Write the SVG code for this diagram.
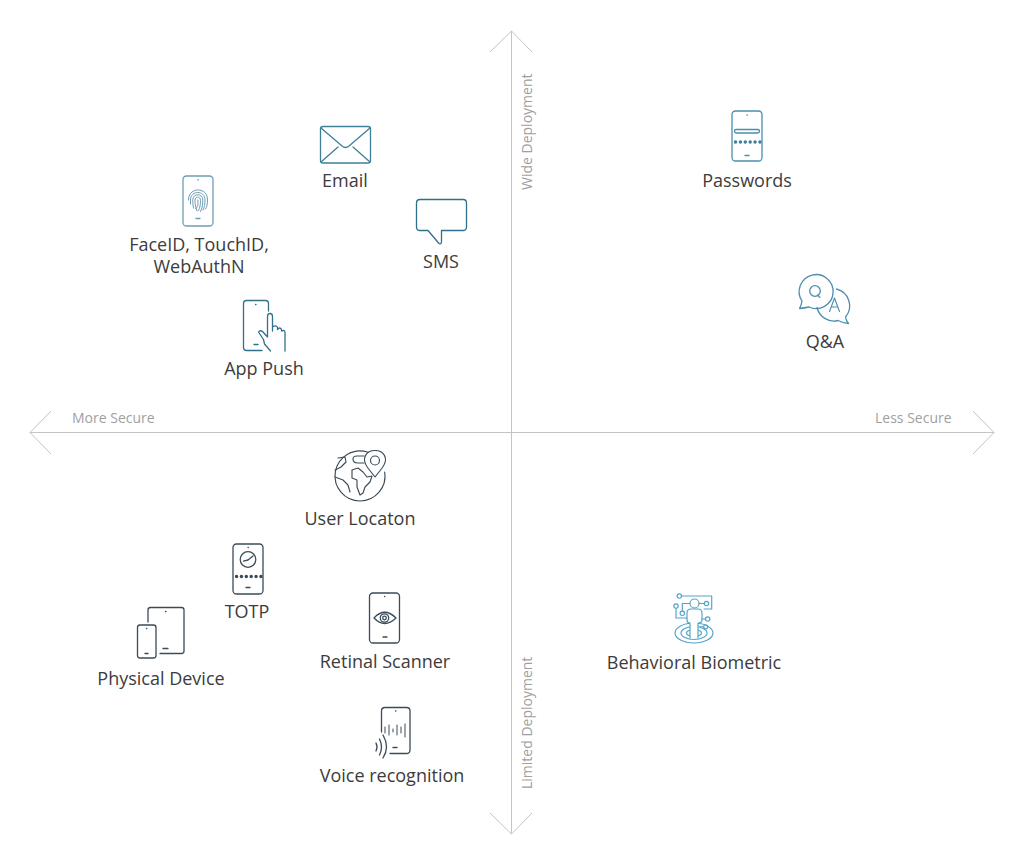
<svg xmlns="http://www.w3.org/2000/svg" width="1024" height="864" viewBox="0 0 1024 864">
<style>
.l{font-family:"Open Sans","Liberation Sans",sans-serif;font-size:18px;fill:#3c3c3c;text-anchor:middle}
.a{font-family:"Open Sans","Liberation Sans",sans-serif;font-size:14px;fill:#9f9f9f}
.ax{fill:none;stroke:#c4c4c4;stroke-width:1}
.i{fill:none;stroke-width:1.3;stroke-linejoin:round;stroke-linecap:round}
.t{stroke:#3f7f98}.f{stroke:#6f9db3}.n{stroke:#31708c}.b{stroke:#4a8fae}.d{stroke:#3a4c5a}.g{stroke:#52a3c8}
.dots{stroke-width:3.4;stroke-dasharray:.1 4.78;fill:none;stroke-linecap:round}
</style>
<rect width="1024" height="864" fill="#fff"/>
<g id="connectors">
<path class="ax" d="M511.500 31V834M490 52L511.500 31L532 52M490 813L511.500 834L532 813"/>
<path class="ax" d="M30 432.500H994M51 411L30 432.500L51 454M973 411L994 432.500L973 454"/>
</g>
<g id="axis-labels">
<text class="a" x="72" y="422.500">More Secure</text>
<text class="a" x="875" y="422.500">Less Secure</text>
<text class="a" transform="translate(532 190) rotate(-90)">Wide Deployment</text>
<text class="a" transform="translate(532 789) rotate(-90)">Limited Deployment</text>
</g>
<g id="email">
<g class="i t"><rect x="320.500" y="126.500" width="50" height="36.500" rx="2.500"/><path d="M321 128L342 146Q345.500 149 349 146L370 128M321 162L338 147M370 162L353 147"/></g>
<text class="l" x="345" y="186.700">Email</text>
</g>
<g id="faceid">
<g class="i f"><rect x="183" y="176" width="30" height="50" rx="3.500"/><path d="M196 218.500H200"/><path d="M198 179.500V180"/>
<path d="M188.500 200C188 186.500 208 186.500 207.500 200C207.500 204 207 207 205.500 209M190.500 204V200C190.500 190 205 190 205 200C205 204 204.500 207 203 210M193.500 208C192.800 205 192.800 202 192.800 200C192.800 193 202.800 193 202.800 200C202.800 204 202.300 208 200.500 211.500M197 211C195.300 206 195 203 195 200.500C195 196 200.500 196 200.500 200.500C200.500 204 200 208 198.500 210.500M197.800 200C198 204 198.500 207 195.500 208.500" stroke-width="1"/></g>
<text class="l" x="199" y="250.700">FaceID, TouchID,</text>
<text class="l" x="199" y="272.700">WebAuthN</text>
</g>
<g id="sms">
<path class="i n" d="M420 199.500H463Q466.500 199.500 466.500 203V227Q466.500 230.500 463 230.500H441.500V241Q441.500 245 439 243.500L428 230.500H420Q416.500 230.500 416.500 227V203Q416.500 199.500 420 199.500Z"/>
<text class="l" x="441" y="267.700">SMS</text>
</g>
<g id="app-push">
<g class="i n"><path d="M268.500 311V303.500Q268.500 300.500 265.500 300.500H246.500Q243.500 300.500 243.500 303.500V347.500Q243.500 350.500 246.500 350.500H262M255.500 304.500H256M254 344.500H258"/>
<path d="M267.500 337V316.500Q267.500 313.500 270 313.500Q272.500 313.500 272.500 316.500V331V327Q276 324.500 277.500 327.500V329.500Q280 326.500 281.500 329.500V331Q285 329.500 285 332.500V351M267.500 337L263 332Q260 329.500 258.500 332L263.500 339.500L264.500 344L270.500 351"/></g>
<text class="l" x="264" y="374.700">App Push</text>
</g>
<g id="passwords">
<g class="i b"><rect x="732" y="111" width="30" height="50" rx="3.500"/><path d="M745 155.500H749M747 115H747.300"/><rect x="734.500" y="129.500" width="25" height="3.500" rx="1.700"/></g>
<path class="dots" stroke="#3f7f98" d="M735.500 142H760"/>
<text class="l" x="747" y="186.700">Passwords</text>
</g>
<g id="qa">
<g class="i b"><path d="M802 301A17 17 0 1 1 809 307Q804 308 799.500 308.500Q801.500 305 802 301Z"/>
<path d="M836.500 289A17.300 17.300 0 0 1 845.500 317Q846 320.500 848.500 323.500Q843 323 838 320.500A17.300 17.300 0 0 1 817 307.500"/>
<circle cx="815" cy="291" r="5.300"/><path d="M817.500 295L820 297.500M829.500 311.500L834.500 298L839.500 311.500M831.300 307H837.700" stroke-width="1.100"/></g>
<text class="l" x="825" y="347.700">Q&amp;A</text>
</g>
<g id="user-location">
<g class="i d" style="stroke-width:1.150"><path d="M368 452.300A25 25 0 1 0 384.700 472"/>
<path d="M375 477L367.500 467.500C361 458.500 366 450.500 375 450.500C384 450.500 389 458.500 382.500 467.500Z"/><circle cx="375" cy="460.500" r="4.500"/>
<path d="M338 458L345 457L346 462L341 467L335 470M335 477L343 480L348 485L350 492M364 456H357Q353 456 353 459Q353 463 358 463H364"/>
<path d="M352 470L358 468L363 472L367 477L372 476L370 482L365 487L363 493L360 495L357 487L357 480L352 478Z"/></g>
<text class="l" x="360" y="524.700">User Locaton</text>
</g>
<g id="totp">
<g class="i d"><rect x="233" y="544" width="30" height="50" rx="3.500"/><path d="M246 587.500H250M248 547.500H248.300"/><circle cx="248" cy="559.500" r="7.800"/><path d="M243.500 561.200L248 560L253 556"/></g>
<path class="dots" stroke="#3a4c5a" d="M236.500 576.500H261"/>
<text class="l" x="247" y="617.700">TOTP</text>
</g>
<g id="physical-device">
<g class="i d"><path d="M148 622V610Q148 607.500 150.500 607.500H181.500Q184 607.500 184 610V651Q184 653.500 181.500 653.500H160M163 648.500H168M165.500 611.500H166"/><rect x="137.500" y="625" width="18.500" height="33" rx="2.500"/><path d="M145 653.500H148M146.500 628.500H146.800"/></g>
<text class="l" x="161" y="684.700">Physical Device</text>
</g>
<g id="retinal-scanner">
<g class="i d"><rect x="369.500" y="593" width="30" height="50" rx="3.500"/><path d="M383 637H387M384.500 596.500H384.800M374 618Q384.500 606.500 396 618Q384.500 629 374 618Z"/><circle cx="384.500" cy="618" r="4.200"/><circle cx="384.500" cy="618" r="1.800"/></g>
<text class="l" x="385" y="667.700">Retinal Scanner</text>
</g>
<g id="voice-recognition">
<g class="i d"><path d="M381.500 732V711Q381.500 707.500 385 707.500H406.500Q410 707.500 410 711V750Q410 753.500 406.500 753.500H390M393 747.500H397M395.500 711H395.800"/>
<path d="M385 727V733M389 725V735M393 729V732M397 725V735M401 727V733M405 724V737" stroke-width="1"/>
<path d="M376 743Q378 747 376 751M379.500 739Q383.500 747 379.500 755M383 735Q390 747 383 758"/></g>
<text class="l" x="392" y="781.700">Voice recognition</text>
</g>
<g id="behavioral-biometric">
<g class="i g" style="stroke-width:1.150"><ellipse cx="694" cy="633" rx="19" ry="10"/><ellipse cx="694" cy="633" rx="13" ry="6.500"/><ellipse cx="694" cy="633" rx="7.500" ry="3.500"/>
<path fill="#fff" d="M690 638V623Q687 623 687 620V613Q687 609 691 609H698Q702 609 702 613V620Q702 623 698 623V638"/><circle cx="694.500" cy="603.500" r="4.500"/>
<circle cx="679.300" cy="596" r="2.200"/><path d="M681.500 596H711.700V609H704"/><circle cx="706.500" cy="603.500" r="2.200"/><path d="M704.300 603.500H699"/>
<circle cx="676" cy="606" r="2.200"/><path d="M676 608.200V618H687"/>
<circle cx="682.300" cy="613.300" r="2.200"/><path d="M682.300 611V603.500H690"/>
<circle cx="707.700" cy="619" r="2.200"/><path d="M705.500 619H702"/><circle cx="705.700" cy="626.700" r="2"/><path d="M703.700 626.700H700"/></g>
<text class="l" x="694" y="668.700">Behavioral Biometric</text>
</g>
</svg>
